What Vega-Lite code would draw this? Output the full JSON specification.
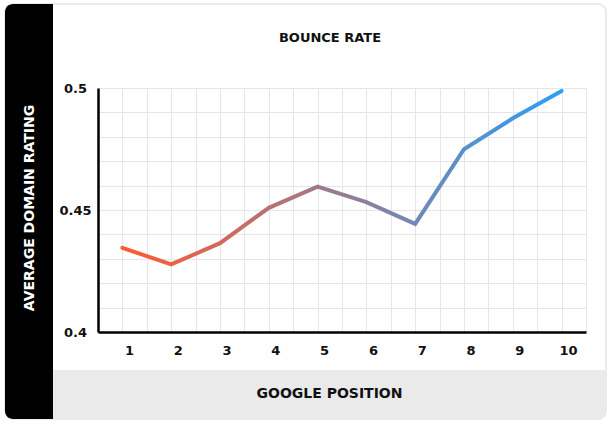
{
  "$schema": "https://vega.github.io/schema/vega-lite/v6.json",
  "width": 488,
  "height": 244,
  "autosize": {"type": "none"},
  "padding": {"left": 98, "top": 88, "right": 27, "bottom": 92},
  "background": "white",
  "layer": [
    {
      "data": {
        "values": [
          {"position": 1, "rating": 0.4345},
          {"position": 2, "rating": 0.4277},
          {"position": 3, "rating": 0.4364},
          {"position": 4, "rating": 0.4509},
          {"position": 5, "rating": 0.4596},
          {"position": 6, "rating": 0.4532},
          {"position": 7, "rating": 0.4443},
          {"position": 8, "rating": 0.4749},
          {"position": 9, "rating": 0.4876},
          {"position": 10, "rating": 0.4988}
        ]
      },
      "mark": {
        "type": "line",
        "strokeWidth": 4,
        "strokeCap": "round",
        "strokeJoin": "miter",
        "color": {
          "gradient": "linear",
          "x1": 0, "y1": 0, "x2": 1, "y2": 0,
          "stops": [
            {"offset": 0, "color": "#ff5b2f"},
            {"offset": 1, "color": "#2a9ff8"}
          ]
        }
      },
      "encoding": {
        "x": {
          "field": "position",
          "type": "quantitative",
          "title": null,
          "scale": {"domain": [0.5, 10.5], "nice": false, "zero": false},
          "axis": {
            "values": [0.5, 1, 1.5, 2, 2.5, 3, 3.5, 4, 4.5, 5, 5.5, 6, 6.5, 7, 7.5, 8, 8.5, 9, 9.5, 10, 10.5],
            "tickCount": 100,
            "labelExpr": "datum.value % 1 == 0 ? '' + datum.value : ''",
            "grid": true,
            "gridColor": "#e6e6e6",
            "gridWidth": 1,
            "domainColor": "#000000",
            "domainWidth": 2.5,
            "ticks": false,
            "tickSize": 0,
            "labelPadding": 12,
            "labelOffset": 6.5,
            "labelFont": "DejaVu Sans",
            "labelFontSize": 13,
            "labelFontWeight": "bold",
            "labelColor": "#111111",
            "labelFlush": false,
            "labelOverlap": false,
            "labelBound": false
          }
        },
        "y": {
          "field": "rating",
          "type": "quantitative",
          "title": null,
          "scale": {"domain": [0.4, 0.5], "nice": false, "zero": false},
          "axis": {
            "values": [0.4, 0.41, 0.42, 0.43, 0.44, 0.45, 0.46, 0.47, 0.48, 0.49, 0.5],
            "tickCount": 100,
            "labelExpr": "datum.value == 0.4 || datum.value == 0.45 || datum.value == 0.5 ? '' + datum.value : ''",
            "grid": true,
            "gridColor": "#e6e6e6",
            "gridWidth": 1,
            "domainColor": "#000000",
            "domainWidth": 2.5,
            "ticks": false,
            "tickSize": 0,
            "labelPadding": 23,
            "labelAlign": "center",
            "labelBaseline": "middle",
            "labelFont": "DejaVu Sans",
            "labelFontSize": 13,
            "labelFontWeight": "bold",
            "labelColor": "#111111",
            "labelFlush": false,
            "labelOverlap": false,
            "labelBound": false
          }
        }
      }
    },
    {
      "data": {"values": [{}]},
      "mark": {"type": "rect", "fill": "transparent", "stroke": "#e4e4e4", "strokeWidth": 1.5, "cornerRadius": 8},
      "encoding": {
        "x": {"datum": -1.4057, "type": "quantitative", "title": null},
        "x2": {"datum": 10.9098},
        "y": {"datum": 0.53443, "type": "quantitative", "title": null},
        "y2": {"datum": 0.36434}
      }
    },
    {
      "data": {"values": [{}]},
      "mark": {"type": "rect", "fill": "#000000", "cornerRadiusTopLeft": 8, "cornerRadiusBottomLeft": 8},
      "encoding": {
        "x": {"datum": -1.4057, "type": "quantitative", "title": null},
        "x2": {"datum": -0.4221},
        "y": {"datum": 0.53443, "type": "quantitative", "title": null},
        "y2": {"datum": 0.36434}
      }
    },
    {
      "data": {"values": [{}]},
      "mark": {"type": "rect", "fill": "#eaeaea", "cornerRadiusBottomRight": 8},
      "encoding": {
        "x": {"datum": -0.4221, "type": "quantitative", "title": null},
        "x2": {"datum": 10.9098},
        "y": {"datum": 0.38443, "type": "quantitative", "title": null},
        "y2": {"datum": 0.36434}
      }
    },
    {
      "data": {"values": [{}]},
      "mark": {
        "type": "text",
        "text": "BOUNCE RATE",
        "font": "DejaVu Sans",
        "fontSize": 13,
        "fontWeight": "bold",
        "color": "#111111",
        "align": "center",
        "baseline": "middle"
      },
      "encoding": {
        "x": {"datum": 5.254, "type": "quantitative", "title": null},
        "y": {"datum": 0.52049, "type": "quantitative", "title": null}
      }
    },
    {
      "data": {"values": [{}]},
      "mark": {
        "type": "text",
        "text": "GOOGLE POSITION",
        "font": "DejaVu Sans",
        "fontSize": 14,
        "fontWeight": "bold",
        "color": "#111111",
        "align": "center",
        "baseline": "middle"
      },
      "encoding": {
        "x": {"datum": 5.2439, "type": "quantitative", "title": null},
        "y": {"datum": 0.37459, "type": "quantitative", "title": null}
      }
    },
    {
      "data": {"values": [{}]},
      "mark": {
        "type": "text",
        "text": "AVERAGE DOMAIN RATING",
        "font": "DejaVu Sans",
        "fontSize": 14,
        "fontWeight": "bold",
        "color": "#ffffff",
        "align": "center",
        "baseline": "middle",
        "angle": 270
      },
      "encoding": {
        "x": {"datum": -0.8934, "type": "quantitative", "title": null},
        "y": {"datum": 0.45082, "type": "quantitative", "title": null}
      }
    }
  ],
  "config": {
    "view": {"stroke": null}
  }
}
